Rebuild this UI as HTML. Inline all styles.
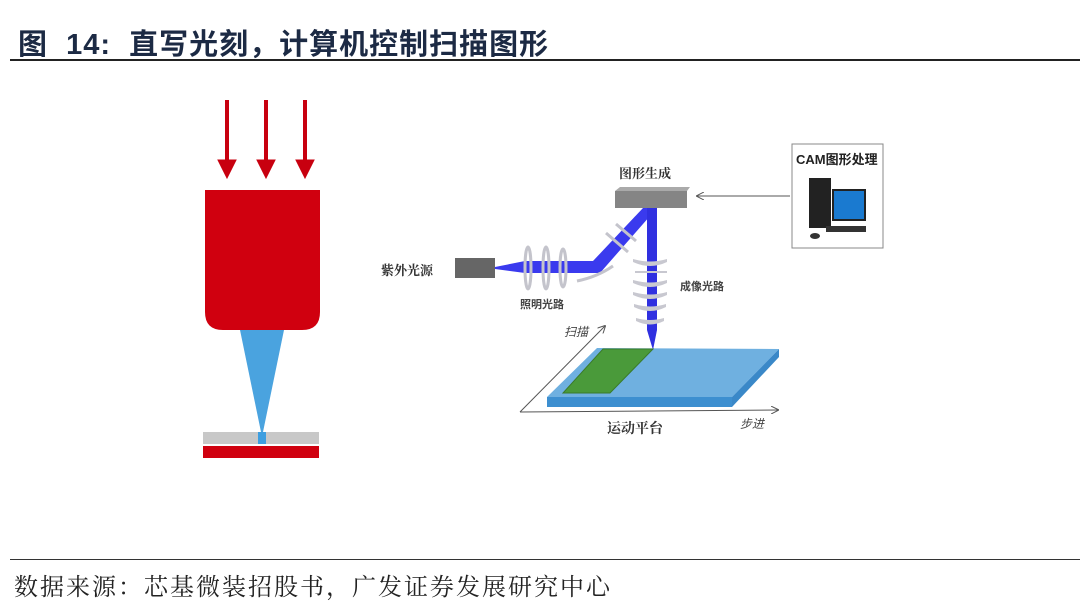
<!DOCTYPE html>
<html><head><meta charset="utf-8"><style>
body{margin:0;width:1080px;height:613px;background:#fff;position:relative;overflow:hidden;font-family:"Liberation Sans","Noto Sans CJK SC",sans-serif}
.t{position:absolute;white-space:nowrap}
</style></head><body>
<div class="t" style="left:18px;top:21px;font-size:29px;font-weight:bold;color:#1c2a44;letter-spacing:1px">图&nbsp;&nbsp;14:&nbsp;&nbsp;直写光刻，计算机控制扫描图形</div>
<div style="position:absolute;left:10px;top:59px;width:1070px;height:2px;background:#222"></div>
<div style="position:absolute;left:10px;top:559px;width:1070px;height:1px;background:#333"></div>
<div class="t" style="left:14px;top:567px;font-size:24px;letter-spacing:2px;color:#222;font-family:'Liberation Serif','Noto Serif CJK SC',serif">数据来源：芯基微装招股书，广发证券发展研究中心</div>
<svg width="1080" height="613" style="position:absolute;left:0;top:0">
<defs><marker id="ah" markerWidth="8" markerHeight="8" refX="7" refY="4" orient="auto"><path d="M0,0 L8,4 L0,8" fill="none" stroke="#555" stroke-width="1"/></marker></defs>
<g fill="#c8000f" stroke="#c8000f">
<line x1="227" y1="100" x2="227" y2="165" stroke-width="4"/><path d="M218,160 L236,160 L227,178Z"/>
<line x1="266" y1="100" x2="266" y2="165" stroke-width="4"/><path d="M257,160 L275,160 L266,178Z"/>
<line x1="305" y1="100" x2="305" y2="165" stroke-width="4"/><path d="M296,160 L314,160 L305,178Z"/>
</g>
<path d="M205,190 L320,190 L320,312 Q320,330 302,330 L223,330 Q205,330 205,312Z" fill="#d0000f"/>
<path d="M240,330 L284,330 L263,432 L261,432Z" fill="#4aa3df"/>
<rect x="203" y="432" width="116" height="12" fill="#c8c8c8"/>
<rect x="258" y="432" width="8" height="12" fill="#3d9ee0"/>
<rect x="203" y="446" width="116" height="12" fill="#d0000f"/>
<rect x="455" y="258" width="40" height="20" fill="#666"/>
<path d="M495,267 L525,261 L593,261 L643,208 L657,208 L600,273 L525,273 L495,269Z" fill="#3a3aee"/>
<path d="M647,205 L657,205 L657,330 L653,350 L647,330Z" fill="#3030e0"/>
<g fill="none" stroke="#c4c4cc" stroke-width="3">
<ellipse cx="528" cy="268" rx="3" ry="21"/><ellipse cx="546" cy="268" rx="3" ry="21"/><ellipse cx="563" cy="268" rx="3" ry="19"/>
<path d="M577,281 Q597,277 613,266"/>
<line x1="606" y1="233" x2="628" y2="252"/><line x1="616" y1="224" x2="636" y2="241"/>
</g>
<g fill="#c8c8d0">
<path d="M633,259 Q650,264 667,259 L667,262 Q650,270 633,262Z"/>
<rect x="635" y="271" width="32" height="2"/>
<path d="M633,280 Q650,285 667,280 L667,283 Q650,291 633,283Z"/>
<path d="M633,292 Q650,297 667,292 L667,295 Q650,303 633,295Z"/>
<path d="M634,304 Q650,309 666,304 L666,307 Q650,315 634,307Z"/>
<path d="M636,318 Q650,322 664,318 L664,321 Q650,328 636,321Z"/>
</g>
<path d="M615,191 L687,191 L687,208 L615,208Z" fill="#858585"/>
<path d="M615,191 L620,187 L690,187 L687,191Z" fill="#aaa"/>
<path d="M597,348 L779,349 L732,397 L547,397Z" fill="#6fb0e0"/>
<path d="M547,397 L732,397 L732,407 L547,407Z" fill="#3d8fd0"/>
<path d="M732,397 L779,349 L779,357 L732,407Z" fill="#3a88c8"/>
<path d="M603,349 L653,349 L610,393 L563,393Z" fill="#4a9a3a" stroke="#3a7a2a"/>
<line x1="520" y1="412" x2="605" y2="326" stroke="#555" marker-end="url(#ah)"/>
<line x1="520" y1="412" x2="778" y2="410" stroke="#555" marker-end="url(#ah)"/>
<line x1="790" y1="196" x2="697" y2="196" stroke="#555" marker-end="url(#ah)"/>
<rect x="792" y="144" width="91" height="104" fill="#fff" stroke="#888"/>
<rect x="809" y="178" width="22" height="50" fill="#222"/>
<rect x="833" y="190" width="32" height="30" fill="#1a7ad0" stroke="#222" stroke-width="2"/>
<rect x="826" y="226" width="40" height="6" fill="#333"/>
<ellipse cx="815" cy="236" rx="5" ry="3" fill="#333"/>
</svg>
<div class="t" style="left:619px;top:163px;font-size:13px;font-weight:bold;color:#333;font-family:'Liberation Serif','Noto Serif CJK SC',serif">图形生成</div>
<div class="t" style="left:796px;top:149px;font-size:13px;font-weight:bold;color:#222">CAM图形处理</div>
<div class="t" style="left:381px;top:260px;font-size:13px;font-weight:bold;color:#333;font-family:'Liberation Serif','Noto Serif CJK SC',serif">紫外光源</div>
<div class="t" style="left:520px;top:296px;font-size:11px;font-weight:bold;color:#444">照明光路</div>
<div class="t" style="left:680px;top:278px;font-size:11px;font-weight:bold;color:#444">成像光路</div>
<div class="t" style="left:564px;top:323px;font-size:12px;font-style:italic;color:#444">扫描</div>
<div class="t" style="left:740px;top:415px;font-size:12px;font-style:italic;color:#444">步进</div>
<div class="t" style="left:607px;top:418px;font-size:14px;font-weight:bold;color:#333;font-family:'Liberation Serif','Noto Serif CJK SC',serif">运动平台</div>
</body></html>
